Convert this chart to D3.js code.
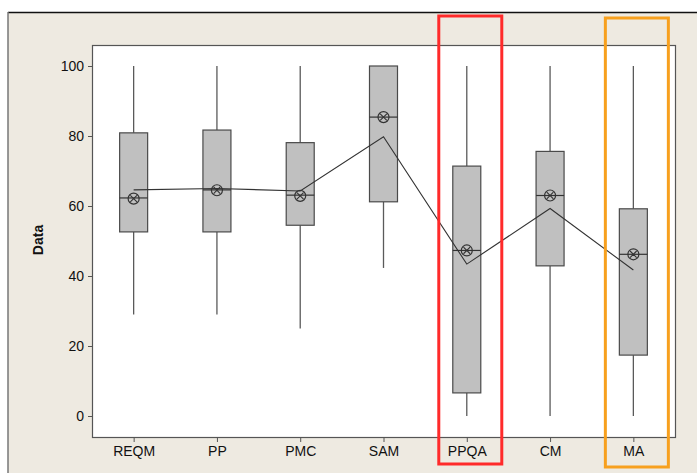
<!DOCTYPE html>
<html>
<head>
<meta charset="utf-8">
<script src="https://cdn.jsdelivr.net/npm/d3@7"></script>
<style>
  body { margin: 0; background: #fff; }
  svg { display: block; font-family: "Liberation Sans", Arial, sans-serif; }
</style>
</head>
<body>
<div id="chart"></div>
<script>
// values
var categories = ["REQM", "PP", "PMC", "SAM", "PPQA", "CM", "MA"];
var whiskerLow = [29, 29, 25, 42.3, 0, 0, 0];
var q1 = [52.6, 52.6, 54.5, 61.2, 6.6, 42.9, 17.4];
var median = [62.3, 64.6, 63.1, 85.4, 47.3, 63.0, 46.2];
var q3 = [80.9, 81.7, 78.1, 100, 71.4, 75.6, 59.2];
var whiskerHigh = [100, 100, 100, 100, 100, 100, 100];
var means = [62.1, 64.5, 62.9, 85.4, 47.3, 63.0, 46.2];
var connectLine = [64.6, 65.0, 64.3, 79.8, 43.4, 59.3, 41.7];
var yTicks = [0, 20, 40, 60, 80, 100];
var highlighted = ["PPQA", "MA"];
var highlightColors = ["#ff2a2a", "#f7a01e"];

var W = 697, H = 473;
var plot = { left: 92, right: 675, top: 45, bottom: 437 };
var boxWidth = 28;

var svg = d3.select("#chart").append("svg")
    .attr("width", W)
    .attr("height", H);

// window background + frame lines
svg.append("rect")
    .attr("x", 8).attr("y", 12)
    .attr("width", W - 8).attr("height", H - 12)
    .attr("fill", "#eeeae1");
svg.append("line")
    .attr("x1", 8).attr("y1", 12.5).attr("x2", W).attr("y2", 12.5)
    .attr("stroke", "#111").attr("stroke-width", 1.5);
svg.append("line")
    .attr("x1", 8).attr("y1", 12).attr("x2", 8).attr("y2", H)
    .attr("stroke", "#777").attr("stroke-width", 1.5);

// plot area
svg.append("rect")
    .attr("x", plot.left + 0.5).attr("y", plot.top + 0.5)
    .attr("width", plot.right - plot.left).attr("height", plot.bottom - plot.top)
    .attr("fill", "#fff")
    .attr("stroke", "#555").attr("stroke-width", 1.2);

var x = d3.scalePoint()
    .domain(categories)
    .range([plot.left, plot.right])
    .padding(0.5);

var y = d3.scaleLinear()
    .domain([-6, 106])
    .range([plot.bottom, plot.top]);

// axes
var yAxis = svg.append("g")
    .attr("transform", `translate(${plot.left}, 0)`)
    .call(d3.axisLeft(y).tickValues(yTicks).tickSize(4).tickPadding(4));
yAxis.select(".domain").remove();

var xAxis = svg.append("g")
    .attr("transform", `translate(0, ${plot.bottom})`)
    .call(d3.axisBottom(x).tickSize(5).tickPadding(4));
xAxis.select(".domain").remove();

svg.selectAll(".tick line").attr("stroke", "#555");
svg.selectAll(".tick text")
    .attr("fill", "#111")
    .style("font-size", "14px")
    .style("font-family", "\"Liberation Sans\", Arial, sans-serif");

svg.append("text")
    .attr("transform", `translate(43, 240) rotate(-90)`)
    .attr("text-anchor", "middle")
    .style("font-size", "14px")
    .style("font-weight", "bold")
    .attr("fill", "#111")
    .text("Data");

var rows = categories.map(function (c, i) {
    return {
        cat: c, lo: whiskerLow[i], q1: q1[i], med: median[i],
        q3: q3[i], hi: whiskerHigh[i], mean: means[i]
    };
});

var boxes = svg.append("g").selectAll("g")
    .data(rows)
    .enter().append("g");

// whiskers
boxes.append("line")
    .attr("x1", d => x(d.cat)).attr("x2", d => x(d.cat))
    .attr("y1", d => y(d.hi)).attr("y2", d => y(d.q3))
    .attr("stroke", "#5a5a5a").attr("stroke-width", 1.3);
boxes.append("line")
    .attr("x1", d => x(d.cat)).attr("x2", d => x(d.cat))
    .attr("y1", d => y(d.q1)).attr("y2", d => y(d.lo))
    .attr("stroke", "#5a5a5a").attr("stroke-width", 1.3);

// boxes
boxes.append("rect")
    .attr("x", d => x(d.cat) - boxWidth / 2)
    .attr("y", d => y(d.q3))
    .attr("width", boxWidth)
    .attr("height", d => y(d.q1) - y(d.q3))
    .attr("fill", "#c0c0c0")
    .attr("stroke", "#4a4a4a").attr("stroke-width", 1.2);

// median
boxes.append("line")
    .attr("x1", d => x(d.cat) - boxWidth / 2).attr("x2", d => x(d.cat) + boxWidth / 2)
    .attr("y1", d => y(d.med)).attr("y2", d => y(d.med))
    .attr("stroke", "#333").attr("stroke-width", 1.2);

// mean symbol (circle with x)
var r = 5.5;
boxes.append("circle")
    .attr("cx", d => x(d.cat)).attr("cy", d => y(d.mean))
    .attr("r", r)
    .attr("fill", "none")
    .attr("stroke", "#333").attr("stroke-width", 1.2);
boxes.append("path")
    .attr("d", function (d) {
        var cx = x(d.cat), cy = y(d.mean), k = r * 0.6;
        return `M${cx - k},${cy - k}L${cx + k},${cy + k}M${cx - k},${cy + k}L${cx + k},${cy - k}`;
    })
    .attr("stroke", "#333").attr("stroke-width", 1.1);

// connect line
var line = d3.line()
    .x(function (d, i) { return x(categories[i]) })
    .y(function (d) { return y(d) });
svg.append("path")
    .datum(connectLine)
    .attr("d", line)
    .attr("fill", "none")
    .attr("stroke", "#333").attr("stroke-width", 1.1);

// highlight frames
highlighted.forEach(function (c, i) {
    svg.append("rect")
        .attr("x", x(c) - 28)
        .attr("y", i == 0 ? 16 : 18)
        .attr("width", 63)
        .attr("height", i == 0 ? 448 : 449)
        .attr("fill", "none")
        .attr("stroke", highlightColors[i])
        .attr("stroke-width", 3);
});
</script>
</body>
</html>
